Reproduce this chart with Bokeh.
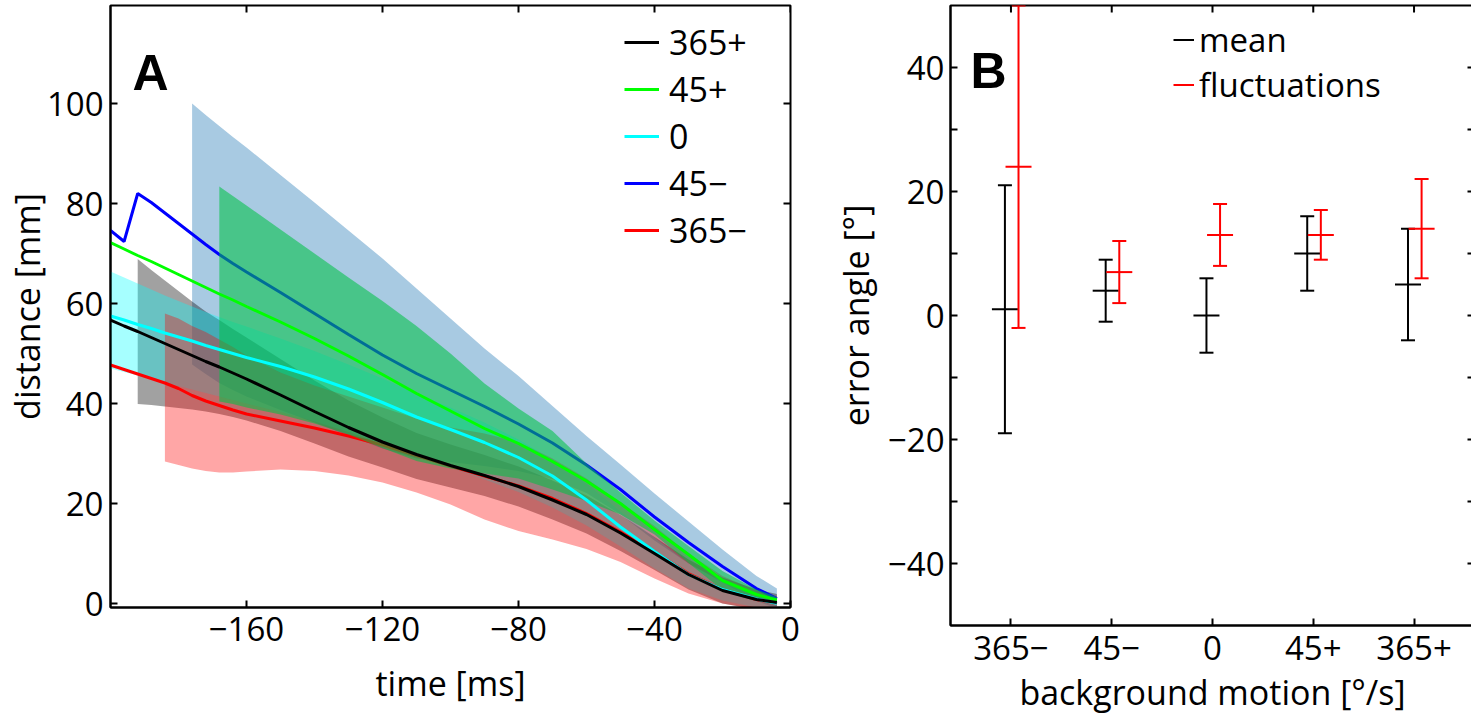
import numpy as np
from bokeh.plotting import figure
from bokeh.models import Range1d, FixedTicker, Legend, LegendItem, Label
from bokeh.layouts import row
from bokeh.embed import file_html
from bokeh.resources import INLINE

# ---------------- Panel A data (distance vs time) ----------------
time_ms = [-200, -196, -192, -188, -184, -180, -176, -172, -168, -164, -160, -150, -140,
           -130, -120, -110, -100, -90, -80, -70, -60, -50, -40, -30, -20, -10, -4]

dist_365p = [56.7, 55.5, 54.4, 53.2, 52.0, 50.8, 49.6, 48.4, 47.3, 46.1, 44.9, 41.7, 38.4,
             35.2, 32.3, 29.8, 27.6, 25.6, 23.4, 20.7, 17.8, 14.1, 10.0, 5.8, 2.6, 0.8, 0.2]
dist_45p = [72.2, 70.9, 69.6, 68.4, 67.1, 65.8, 64.5, 63.2, 61.9, 60.7, 59.4, 56.3, 53.0,
            49.5, 45.8, 42.0, 38.5, 35.0, 32.0, 28.4, 24.5, 20.0, 14.8, 9.8, 4.6, 1.8, 0.7]
dist_0 = [57.5, 56.7, 55.8, 55.0, 54.1, 53.3, 52.5, 51.6, 50.8, 50.0, 49.2, 47.4, 45.3,
          42.9, 40.2, 37.3, 34.8, 32.2, 29.2, 25.5, 20.7, 15.3, 10.4, 5.8, 2.8, 0.9, 0.0]
dist_45m = [74.6, 72.4, 82.0, 80.2, 78.1, 76.0, 73.9, 71.8, 69.8, 68.0, 66.3, 62.2, 58.0,
            53.8, 49.7, 46.0, 42.7, 39.4, 35.9, 32.1, 27.7, 22.8, 17.3, 12.2, 7.4, 3.0, 1.0]
dist_365m = [47.7, 46.8, 45.9, 45.0, 44.1, 43.0, 41.6, 40.5, 39.6, 38.7, 37.9, 36.5, 35.1,
             33.5, 31.7, 29.6, 27.5, 25.5, 23.5, 21.0, 18.0, 14.3, 10.3, 6.0, 2.8, 0.8, 0.0]

# shaded bands (each band starts at its own time)
band_365p_t = time_ms[2:]
band_365p_hi = [68.9, 66.7, 64.6, 62.5, 60.4, 58.4, 56.7, 54.9, 53.2, 48.9, 44.6, 40.6, 37.2,
                34.1, 31.8, 29.7, 27.4, 24.6, 21.6, 17.7, 13.3, 8.8, 5.2, 2.8, 1.9]
band_365p_lo = [39.9, 39.7, 39.4, 39.1, 38.8, 38.4, 37.9, 37.3, 36.6, 34.5, 32.0, 29.4, 27.2,
                24.9, 23.2, 21.5, 19.4, 16.8, 14.0, 10.5, 6.7, 2.8, 0.0, -1.2, -1.5]

band_365m_t = time_ms[4:]
band_365m_hi = [58.0, 57.0, 55.5, 54.3, 52.8, 51.3, 49.6, 46.2, 43.6, 41.4, 39.2, 37.0, 35.2,
                34.0, 32.3, 29.0, 25.0, 20.2, 15.5, 10.0, 5.5, 2.6, 1.5]
band_365m_lo = [28.4, 27.7, 27.0, 26.5, 26.2, 26.2, 26.4, 26.8, 26.5, 25.6, 24.2, 22.2, 19.8,
                16.8, 14.5, 12.8, 10.9, 8.3, 5.0, 2.0, 0.0, -1.2, -1.7]

band_45m_t = time_ms[6:]
band_45m_hi = [100.0, 97.7, 95.5, 93.3, 91.2, 85.7, 80.2, 74.6, 69.0, 63.0, 57.0, 51.0, 45.5,
               39.5, 33.5, 27.8, 22.0, 16.4, 10.8, 5.5, 3.0]
band_45m_lo = [47.8, 45.9, 44.1, 42.7, 41.4, 38.7, 36.2, 33.6, 31.0, 29.0, 28.3, 27.5, 26.5,
               24.9, 22.1, 17.8, 12.6, 8.0, 4.2, 0.5, -1.0]

band_45p_t = time_ms[8:]
band_45p_hi = [83.4, 81.5, 79.6, 74.8, 70.0, 65.2, 60.5, 55.5, 50.0, 44.0, 39.0, 34.5, 28.0,
               22.2, 16.6, 11.5, 6.5, 2.8, 1.3]
band_45p_lo = [40.4, 39.9, 39.2, 37.8, 36.0, 33.8, 31.1, 28.5, 27.0, 26.0, 25.0, 22.8, 20.5,
               17.8, 13.8, 8.1, 2.7, 0.8, 0.1]

band_0_t = time_ms
band_0_hi = [66.4, 65.2, 64.0, 62.8, 61.6, 60.5, 59.4, 58.3, 57.3, 56.3, 55.4, 53.0, 50.5,
             47.8, 45.0, 42.0, 39.2, 36.2, 32.8, 28.8, 24.0, 18.4, 13.2, 8.0, 4.4, 2.0, 0.8]
band_0_lo = [47.0, 46.3, 45.6, 44.9, 44.2, 43.5, 42.8, 42.1, 41.4, 40.7, 40.0, 38.3, 36.4,
             34.3, 32.0, 29.6, 27.2, 24.8, 22.3, 19.2, 15.6, 11.4, 7.0, 3.0, 0.6, -0.8, -1.2]

a_xticks = [-160, -120, -80, -40, 0]
a_yticks = [0, 20, 40, 60, 80, 100]

# ---------------- Panel B data (error angle) ----------------
motion_labels = ["365\u2212", "45\u2212", "0", "45+", "365+"]
mean_err = [1, 4, 0, 10, 5]
mean_sd = [20, 5, 6, 6, 9]
fluct_err = [24, 7, 13, 13, 14]
fluct_sd = [26, 5, 5, 4, 8]
b_yticks = [-40, -30, -20, -10, 0, 10, 20, 30, 40]
b_ylabels = {-40: "\u221240", -30: "", -20: "\u221220", -10: "", 0: "0", 10: "", 20: "20", 30: "", 40: "40"}

FONT = "Open Sans"
FS = "34px"
TFS = "33px"


def style_axis(ax):
    ax.axis_line_color = "black"
    ax.axis_line_width = 2
    ax.major_tick_in = 7
    ax.major_tick_out = 0
    ax.major_tick_line_color = "black"
    ax.major_tick_line_width = 2
    ax.minor_tick_line_color = None
    ax.major_label_text_font = FONT
    ax.major_label_text_font_size = TFS
    ax.major_label_text_color = "black"
    ax.axis_label_text_font = FONT
    ax.axis_label_text_font_size = FS
    ax.axis_label_text_font_style = "normal"
    ax.axis_label_text_color = "black"


def mirror_ticks(p, xticks, yticks):
    # inward tick marks on the top and right edges (half of each dash is clipped by the frame)
    xe = p.x_range.end
    ye = p.y_range.end
    p.scatter(x=xticks, y=[ye] * len(xticks), marker="dash", angle=np.pi / 2, size=14,
              line_color="black", line_width=2)
    p.scatter(x=[xe] * len(yticks), y=yticks, marker="dash", size=14,
              line_color="black", line_width=2)


# ---------------- Panel A ----------------
pA = figure(frame_width=680, frame_height=602,
            x_range=Range1d(-200, 0), y_range=Range1d(-0.8, 119.6),
            output_backend="svg", toolbar_location=None,
            min_border_left=104, min_border_right=20, min_border_top=2, min_border_bottom=117)
pA.xgrid.visible = False
pA.ygrid.visible = False
pA.outline_line_color = "black"
pA.outline_line_width = 2

pA.xaxis.ticker = FixedTicker(ticks=a_xticks)
pA.yaxis.ticker = FixedTicker(ticks=a_yticks)
style_axis(pA.xaxis[0])
style_axis(pA.yaxis[0])
pA.xaxis.major_label_standoff = 9
pA.yaxis.major_label_standoff = 7
pA.xaxis.axis_label = "time [ms]"
pA.xaxis.axis_label_standoff = 16
pA.yaxis.axis_label = "distance [mm]"
pA.yaxis.axis_label_standoff = -6

# bands and lines
pA.varea(x=band_45m_t, y1=band_45m_lo, y2=band_45m_hi, fill_color="#0064aa", fill_alpha=0.34)
pA.varea(x=band_365p_t, y1=band_365p_lo, y2=band_365p_hi, fill_color="black", fill_alpha=0.37)
pA.varea(x=band_0_t, y1=band_0_lo, y2=band_0_hi, fill_color="#00ffff", fill_alpha=0.35)
pA.varea(x=band_365m_t, y1=band_365m_lo, y2=band_365m_hi, fill_color="#ff0000", fill_alpha=0.35)
r_365m = pA.line(time_ms, dist_365m, line_color="#ff0000", line_width=3)
r_45m = pA.line(time_ms, dist_45m, line_color="#0000ff", line_width=3)
pA.varea(x=band_45p_t, y1=band_45p_lo, y2=band_45p_hi, fill_color="#00c146", fill_alpha=0.57)
r_45p = pA.line(time_ms, dist_45p, line_color="#00ff00", line_width=3)
r_0 = pA.line(time_ms, dist_0, line_color="#00ffff", line_width=3)
r_365p = pA.line(time_ms, dist_365p, line_color="black", line_width=3)
mirror_ticks(pA, a_xticks, a_yticks)

legA = Legend(items=[LegendItem(label="365+", renderers=[r_365p]),
                     LegendItem(label="45+", renderers=[r_45p]),
                     LegendItem(label="0", renderers=[r_0]),
                     LegendItem(label="45\u2212", renderers=[r_45m]),
                     LegendItem(label="365\u2212", renderers=[r_365m])],
              location=(514, 354))
legA.padding = 0
legA.margin = 0
legA.border_line_color = None
legA.background_fill_alpha = 0
legA.glyph_width = 35
legA.glyph_height = 46
legA.label_height = 46
legA.label_standoff = 10
legA.spacing = 1
legA.label_text_font = FONT
legA.label_text_font_size = FS
legA.label_text_color = "black"
pA.add_layout(legA)

pA.add_layout(Label(x=-193.5, y=106.2, text="A", text_font="Liberation Sans",
                    text_font_style="bold", text_font_size="50px", text_baseline="alphabetic",
                    text_color="black"))

# ---------------- Panel B ----------------
pB = figure(frame_width=524, frame_height=620,
            x_range=Range1d(0.4, 5.6), y_range=Range1d(-50, 50),
            output_backend="svg", toolbar_location=None,
            min_border_left=140, min_border_right=2, min_border_top=5, min_border_bottom=96)
pB.xgrid.visible = False
pB.ygrid.visible = False
pB.outline_line_color = "black"
pB.outline_line_width = 2

cat_pos = list(range(1, len(motion_labels) + 1))
pB.xaxis.ticker = FixedTicker(ticks=cat_pos)
pB.xaxis.major_label_overrides = {i: lab for i, lab in zip(cat_pos, motion_labels)}
pB.yaxis.ticker = FixedTicker(ticks=b_yticks)
pB.yaxis.major_label_overrides = b_ylabels
style_axis(pB.xaxis[0])
style_axis(pB.yaxis[0])
pB.xaxis.major_label_standoff = 10
pB.yaxis.major_label_standoff = 6
pB.xaxis.axis_label = "background motion [\u00b0/s]"
pB.xaxis.axis_label_standoff = 6
pB.yaxis.axis_label = "error angle [\u00b0]"
pB.yaxis.axis_label_standoff = 6

xs = np.array(cat_pos, dtype=float)
x_mean = xs - 0.06
x_fluct = xs + 0.075
m = np.array(mean_err, dtype=float)
ms = np.array(mean_sd, dtype=float)
f = np.array(fluct_err, dtype=float)
fs = np.array(fluct_sd, dtype=float)

r_mean = pB.segment(x0=x_mean, y0=m - ms, x1=x_mean, y1=m + ms, line_color="black", line_width=2)
pB.scatter(np.concatenate([x_mean, x_mean]), np.concatenate([m - ms, m + ms]), marker="dash",
           size=14, line_color="black", line_width=2)
pB.scatter(x_mean, m, marker="dash", size=26, line_color="black", line_width=2)

r_fl = pB.segment(x0=x_fluct, y0=f - fs, x1=x_fluct, y1=f + fs, line_color="#ff0000", line_width=2)
pB.scatter(np.concatenate([x_fluct, x_fluct]), np.concatenate([f - fs, f + fs]), marker="dash",
           size=14, line_color="#ff0000", line_width=2)
pB.scatter(x_fluct, f, marker="dash", size=26, line_color="#ff0000", line_width=2)
mirror_ticks(pB, cat_pos, b_yticks)

legB = Legend(items=[LegendItem(label="mean", renderers=[r_mean]),
                     LegendItem(label="fluctuations", renderers=[r_fl])],
              location=(223, 518))
legB.padding = 0
legB.margin = 0
legB.border_line_color = None
legB.background_fill_alpha = 0
legB.glyph_width = 21
legB.glyph_height = 45
legB.label_height = 45
legB.label_standoff = 5
legB.spacing = 0
legB.label_text_font = FONT
legB.label_text_font_size = "33px"
legB.label_text_color = "black"
pB.add_layout(legB)

pB.add_layout(Label(x=0.598, y=39.5, text="B", text_font="Liberation Sans",
                    text_font_style="bold", text_font_size="50px", text_baseline="alphabetic",
                    text_color="black"))

layout = row(pA, pB)
open("out.html", "w").write(file_html(layout, INLINE))
